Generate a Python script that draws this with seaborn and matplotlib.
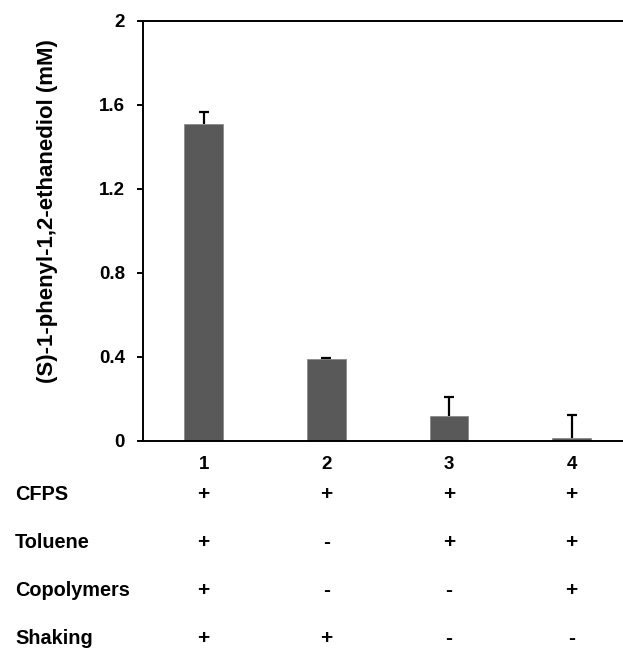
import pandas as pd
import matplotlib.pyplot as plt
import matplotlib.transforms as mtransforms
import numpy as np
import seaborn as sns

sns.set_style('white')
plt.rcParams['font.family'] = ['Liberation Sans', 'DejaVu Sans']
plt.rcParams['font.weight'] = 'bold'
plt.rcParams['text.color'] = 'black'
plt.rcParams['xtick.color'] = 'black'
plt.rcParams['ytick.color'] = 'black'
plt.rcParams['axes.labelcolor'] = 'black'

# data
groups = ['1', '2', '3', '4']
diol = [1.507, 0.389, 0.118, 0.013]
diol_err = [0.058, 0.003, 0.092, 0.110]

row_names = ['CFPS', 'Toluene', 'Copolymers', 'Shaking']
cfps = ['+', '+', '+', '+']
toluene = ['+', '-', '+', '+']
copolymers = ['+', '-', '-', '+']
shaking = ['+', '+', '-', '-']

df = pd.DataFrame({'group': groups, 'diol': diol, 'err': diol_err})

fig = plt.figure(figsize=(6.23, 6.5), dpi=100)
ax = fig.add_axes([0.2295, 0.322, 0.7705, 0.646])

sns.barplot(data=df, x='group', y='diol', color='#595959', saturation=1,
            width=0.313, edgecolor='#8a8a8a', linewidth=0.6, ax=ax)
# one-sided (upper) error bars only
eb = ax.errorbar(np.arange(len(groups)), df['diol'],
                 yerr=[np.zeros(len(groups)), df['err']],
                 fmt='none', ecolor='black', elinewidth=1.6, capsize=3.6, capthick=1.6)
eb[1][0].set_visible(False)

ax.set_xlim(-0.495, 3.419)
ax.set_ylim(0, 2)
ax.set_yticks([0, 0.4, 0.8, 1.2, 1.6, 2])
ax.set_yticklabels(['0', '0.4', '0.8', '1.2', '1.6', '2'])

for s in ['left', 'bottom', 'top']:
    ax.spines[s].set_color('black')
    ax.spines[s].set_linewidth(1.4)
ax.spines['right'].set_visible(False)

ax.tick_params(axis='y', direction='out', length=4, width=1.4, labelsize=13.5, pad=9, left=True)
ax.tick_params(axis='x', length=0, labelsize=13.5, pad=11)

ax.set_xlabel('')
ax.set_ylabel('(S)-1-phenyl-1,2-ethanediol (mM)', fontsize=16, fontweight='bold')
ax.yaxis.set_label_coords(-0.176, 0.547)

# condition table under the axis
trans = mtransforms.blended_transform_factory(ax.transData, fig.transFigure)
rows = [cfps, toluene, copolymers, shaking]
row_y = [494, 543, 591, 638]
for name, marks, ypx in zip(row_names, rows, row_y):
    yf = 1 - ypx / 650
    fig.text(15 / 623, yf, name, ha='left', va='center', fontsize=14.3, fontweight='bold')
    for i, m in enumerate(marks):
        ax.text(i, yf, m, transform=trans, ha='center', va='center',
                fontsize=15, fontweight='bold', clip_on=False)

fig.patch.set_facecolor('white')
fig.savefig('out.png', dpi=100)
